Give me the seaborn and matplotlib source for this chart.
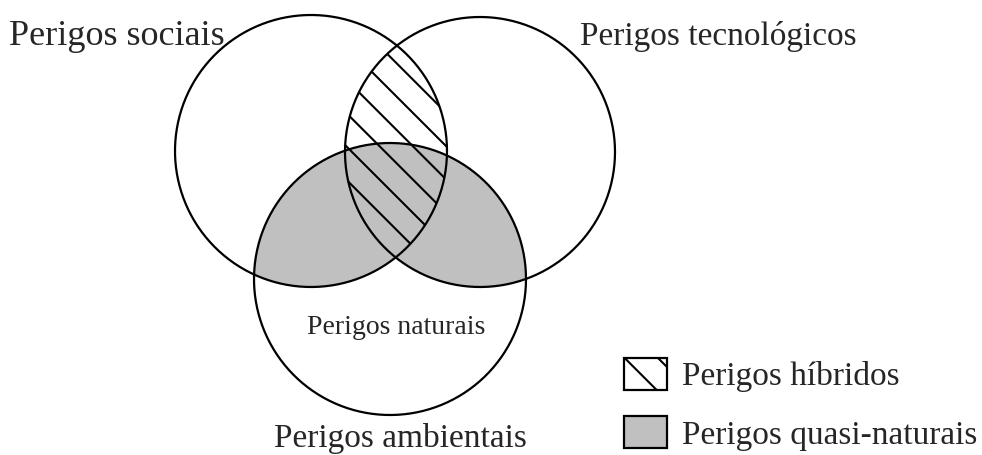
import numpy as np
import pandas as pd
import matplotlib
matplotlib.use("Agg")
import matplotlib.pyplot as plt
from matplotlib.patches import Circle, Patch
import seaborn as sns

# ==========================
# Data (pixel space, y down)
# ==========================

circle_names = ["sociais", "tecnologicos", "ambientais"]
center_x = [311, 480, 390]
center_y = [151, 152, 279]
radius = [136, 135, 136]

label_texts = ["Perigos sociais", "Perigos tecnológicos",
               "Perigos naturais", "Perigos ambientais"]
legend_labels = ["Perigos híbridos", "Perigos quasi-naturais"]

gray = "#c0c0c0"

# ==========================
# Style
# ==========================

sns.set_theme(style="white")
plt.rcParams["font.family"] = ["Liberation Serif", "DejaVu Serif"]
plt.rcParams["hatch.linewidth"] = 1.5
plt.rcParams["hatch.color"] = "black"

fig = plt.figure(figsize=(9.82, 4.55), dpi=100)
ax = fig.add_axes([0, 0, 1, 1])


def circ(i, **kw):
    return Circle((center_x[i], center_y[i]), radius[i],
                  transform=ax.transData, **kw)


# gray: ambientais intersect (sociais or tecnologicos)
for j in (0, 1):
    g = circ(2, facecolor=gray, edgecolor="none", zorder=1)
    ax.add_patch(g)
    g.set_clip_path(circ(j))

# hatch: sociais intersect tecnologicos
h = circ(0, facecolor="none", edgecolor="black", linewidth=0,
         hatch="\\", zorder=2)
ax.add_patch(h)
h.set_clip_path(circ(1))

# circle outlines
theta = np.linspace(0, 2 * np.pi, 400)
rows = []
for i, name in enumerate(circle_names):
    for t in theta:
        rows.append({"circle": name,
                     "x": center_x[i] + radius[i] * np.cos(t),
                     "y": center_y[i] + radius[i] * np.sin(t)})
outline = pd.DataFrame(rows)

sns.lineplot(data=outline, x="x", y="y", units="circle",
             estimator=None, sort=False, color="black",
             linewidth=1.6, ax=ax, zorder=3)

# ==========================
# Labels
# ==========================

ax.text(117, 45, label_texts[0], fontsize=26, ha="center", va="baseline")
ax.text(718, 45, label_texts[1], fontsize=24, ha="center", va="baseline")
ax.text(396, 334, label_texts[2], fontsize=20, ha="center", va="baseline")
ax.text(400, 447, label_texts[3], fontsize=24, ha="center", va="baseline")

handles = [
    Patch(facecolor="white", edgecolor="black", hatch="\\", linewidth=1.6),
    Patch(facecolor=gray, edgecolor="black", linewidth=1.6),
]
ax.legend(handles, legend_labels, loc="upper left",
          bbox_to_anchor=(624, 358), bbox_transform=ax.transData,
          frameon=False, fontsize=24, handlelength=1.3,
          handleheight=1.1, handletextpad=0.45, labelspacing=0.72,
          borderpad=0, borderaxespad=0)

ax.set_xlim(0, 982)
ax.set_ylim(455, 0)
ax.set_xlabel("")
ax.set_ylabel("")
ax.axis("off")

plt.savefig("out.png", dpi=100)
plt.close()
